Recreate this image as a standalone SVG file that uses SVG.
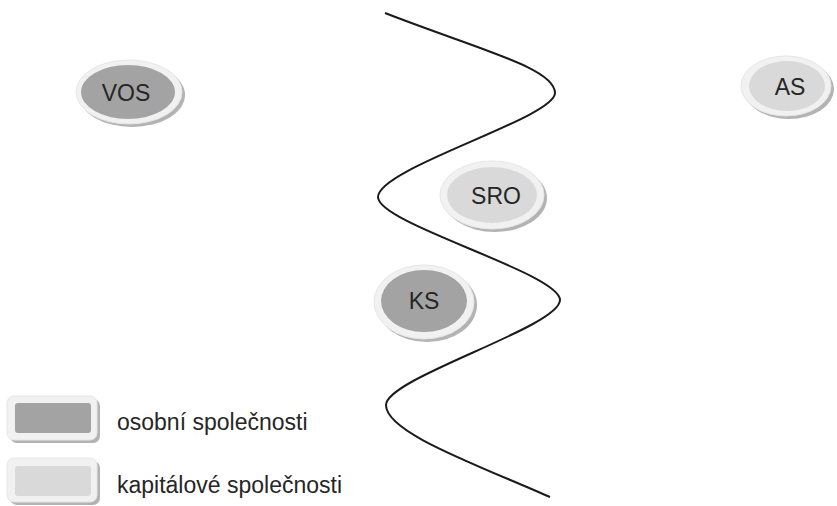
<svg xmlns="http://www.w3.org/2000/svg" width="837" height="506" viewBox="0 0 837 506">
<style>
.sh{fill:#b3b3b3}
.rim{fill:#f1f1f1;stroke:#e6e6e6;stroke-width:1}
.dark{fill:#a3a3a3}
.light{fill:#d9d9d9}
.lbl{font-family:"Liberation Sans",Arial,sans-serif;font-size:23px;fill:#262626;text-anchor:middle}
.leg{font-family:"Liberation Sans",Arial,sans-serif;font-size:23px;fill:#262626}
.curve{fill:none;stroke:#1a1a1a;stroke-width:2}
</style>
<rect width="837" height="506" fill="#ffffff"/>
<g id="connectors">
<path class="curve" d="M385,13 C480,50 555,68 555,93 C555,118 378,168 378,197 C378,224 560,273 560,300 C560,327 386,378 386,405 C386,432 470,462 550,497"/>
</g>
<g id="VOS">
<ellipse class="sh" cx="132" cy="95" rx="53" ry="32"/>
<ellipse class="rim" cx="129" cy="92" rx="53" ry="32"/>
<ellipse class="dark" cx="128" cy="92" rx="47" ry="27"/>
<text class="lbl" x="126" y="101">VOS</text>
</g>
<g id="AS">
<ellipse class="sh" cx="789" cy="89" rx="45" ry="30"/>
<ellipse class="rim" cx="786" cy="86" rx="45" ry="30"/>
<ellipse class="light" cx="787" cy="86" rx="38" ry="25"/>
<text class="lbl" x="790" y="95">AS</text>
</g>
<g id="SRO">
<ellipse class="sh" cx="495" cy="198" rx="52" ry="34"/>
<ellipse class="rim" cx="492" cy="195" rx="52" ry="34"/>
<ellipse class="light" cx="492" cy="195" rx="45" ry="28"/>
<text class="lbl" x="496" y="204">SRO</text>
</g>
<g id="KS">
<ellipse class="sh" cx="427" cy="305" rx="50" ry="37"/>
<ellipse class="rim" cx="424" cy="302" rx="50" ry="37"/>
<ellipse class="dark" cx="424" cy="301" rx="43" ry="31"/>
<text class="lbl" x="424" y="309">KS</text>
</g>
<g id="legend-osobni">
<rect class="sh" x="10" y="399" width="90" height="44" rx="7"/>
<rect class="rim" x="7" y="396" width="90" height="44" rx="7"/>
<rect class="dark" x="15" y="403" width="76" height="30" rx="3"/>
<text class="leg" x="117" y="430">osobní společnosti</text>
</g>
<g id="legend-kapitalove">
<rect class="sh" x="10" y="461" width="90" height="44" rx="7"/>
<rect class="rim" x="7" y="458" width="90" height="44" rx="7"/>
<rect class="light" x="15" y="466" width="76" height="30" rx="3"/>
<text class="leg" x="117" y="493">kapitálové společnosti</text>
</g>
</svg>
